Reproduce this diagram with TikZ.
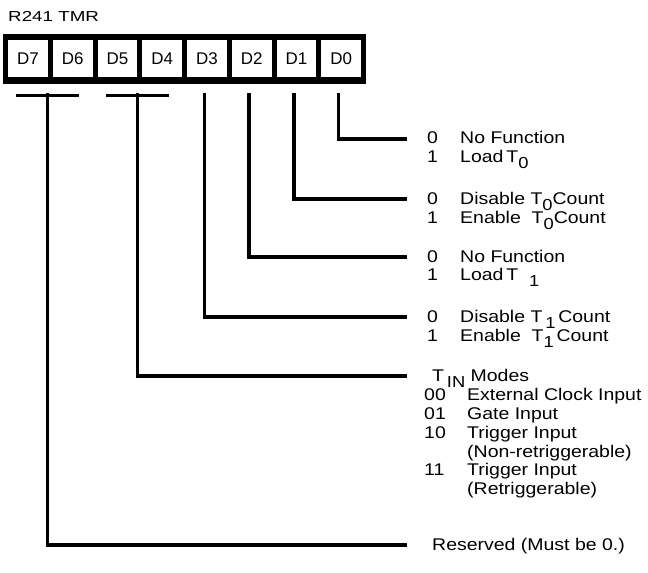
\documentclass[tikz,border=0pt]{standalone}
\usepackage{fontspec}
\usepackage{tikz}
\usetikzlibrary{calc}
\setmainfont{Liberation Sans}[FakeStretch=1.15]
\newfontfamily\ttlfont{Liberation Sans}[FakeStretch=1.3]
\newfontfamily\cellfont{Liberation Sans}
\newcommand{\lowr}[1]{\raisebox{-6bp}{\fontsize{16}{16}\selectfont #1}}

\begin{document}
\begin{tikzpicture}[x=1bp,y=-1bp,
  bitcell/.style={fill=white,inner sep=0pt,minimum width=39.75bp,minimum height=37.5bp,font=\cellfont\fontsize{17}{19}\selectfont},
  bitline/.style={line width=3.3bp},
  fnlist/.style={anchor=base west,inner sep=0pt,font=\fontsize{17}{19}\selectfont}]

\useasboundingbox (0,0) rectangle (648,573);

% Register name
\node[anchor=base west,inner sep=0pt,font=\ttlfont\fontsize{14.5}{16}\selectfont] (title) at (8,21.5) {R241 TMR};

% Register frame and bit cells
\fill[black] (3,34) rectangle (366,84);
\node[bitcell] (d7) at (27.875,58.75) {D7};
\node[bitcell] (d6) at (72.625,58.75) {D6};
\node[bitcell] (d5) at (117.375,58.75) {D5};
\node[bitcell] (d4) at (162.125,58.75) {D4};
\node[bitcell] (d3) at (206.875,58.75) {D3};
\node[bitcell] (d2) at (251.625,58.75) {D2};
\node[bitcell] (d1) at (296.375,58.75) {D1};
\node[bitcell] (d0) at (341.125,58.75) {D0};

% Bit functions
\node[fnlist] (f0) at (427,144) {\begin{tabular}[t]{@{}p{33bp}@{}l@{}}
0 & No Function\\
1 & Load\,T\lowr{0}
\end{tabular}};
\node[fnlist] (f1) at (427,204) {\begin{tabular}[t]{@{}p{33bp}@{}l@{}}
0 & Disable T\lowr{0}Count\\
1 & Enable\ \ T\lowr{0}Count
\end{tabular}};
\node[fnlist] (f2) at (427,262) {\begin{tabular}[t]{@{}p{33bp}@{}l@{}}
0 & No Function\\
1 & Load\,T\ \ \lowr{1}
\end{tabular}};
\node[fnlist] (f3) at (427,322) {\begin{tabular}[t]{@{}p{33bp}@{}l@{}}
0 & Disable T\,\lowr{1}\,Count\\
1 & Enable\ \ T\lowr{1}\,Count
\end{tabular}};
\node[fnlist] (f54) at (424,381) {\begin{tabular}[t]{@{}p{43bp}@{}l@{}}
\multicolumn{2}{@{\hspace{8bp}}l@{}}{T\,\lowr{IN} Modes}\\
00 & External Clock Input\\
01 & Gate Input\\
10 & Trigger Input\\
   & (Non-retriggerable)\\
11 & Trigger Input\\
   & (Retriggerable)
\end{tabular}};
\node[fnlist] (rsv) at (432,550) {Reserved (Must be 0.)};

% Line tops below the register
\coordinate (t0) at ($(d0.south)+(-2.5,15.5)$);
\coordinate (t1) at ($(d1.south)+(-2.5,15.5)$);
\coordinate (t2) at ($(d2.south)+(-2.5,15.5)$);
\coordinate (t3) at ($(d3.south)+(-2.5,15.5)$);
\coordinate (t54) at ($(d5.south east)!0.5!(d4.south west)+(-2.5,15.5)$);
\coordinate (t76) at ($(d7.south east)!0.5!(d6.south west)+(-2.5,15.5)$);

% Bit lines
\draw[bitline] (t0) |- ([xshift=-20bp,yshift=5bp]f0.base west);
\draw[bitline] (t1) |- ([xshift=-20bp,yshift=5bp]f1.base west);
\draw[bitline] (t2) |- ([xshift=-20bp,yshift=5bp]f2.base west);
\draw[bitline] (t3) |- ([xshift=-20bp,yshift=5bp]f3.base west);
\draw[bitline] ($(t54)+(-31.5,2)$) -- ($(t54)+(31.5,2)$);
\draw[bitline] (t54) |- ([xshift=-17bp,yshift=5bp]f54.base west);
\draw[bitline] ($(t76)+(-31.5,2)$) -- ($(t76)+(31.5,2)$);
\draw[bitline] (t76) |- ([xshift=-25bp,yshift=5bp]rsv.base west);
\end{tikzpicture}
\end{document}
